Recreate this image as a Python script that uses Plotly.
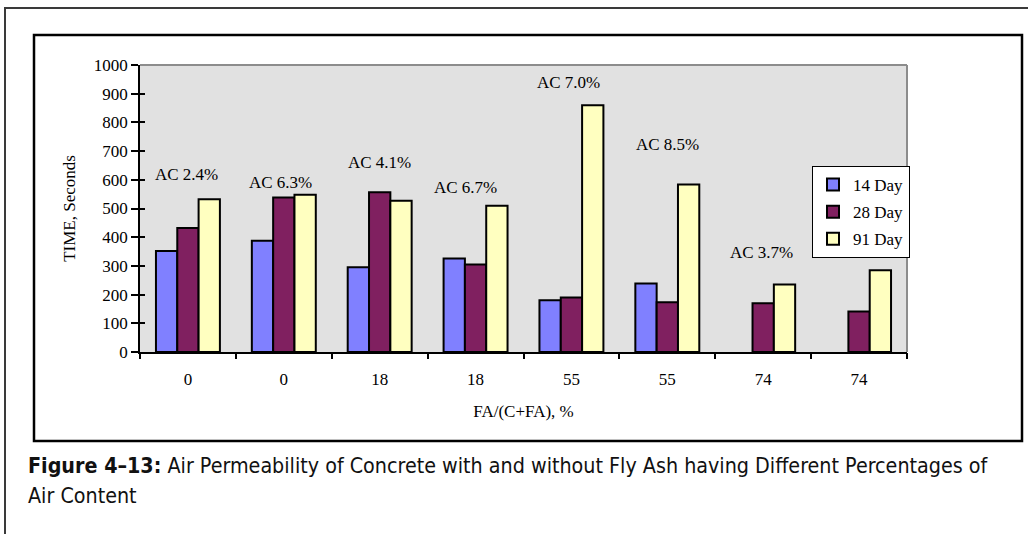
import plotly.graph_objects as go

# Fly ash fraction FA/(C+FA), % for each mix
fa_labels = ["0", "0", "18", "18", "55", "55", "74", "74"]

# Air permeability test time (seconds) by curing age
day14 = [352, 388, 295, 326, 180, 239, None, None]
day28 = [432, 538, 557, 305, 190, 173, 170, 141]
day91 = [532, 548, 527, 510, 860, 584, 235, 285]

# Air content note above each mix
ac_labels = ["AC 2.4%", "AC 6.3%", "AC 4.1%", "AC 6.7%", "AC 7.0%", "AC 8.5%", "AC 3.7%", ""]

series_names = ["14 Day", "28 Day", "91 Day"]
series_colors = ["#8080FF", "#802060", "#FFFFC0"]

# placement of the air-content notes (data units)
ac_y = [618, 592, 662, 573, 938, 722, 346, 0]
ac_dx = [-0.02, -0.03, 0.0, -0.11, -0.03, 0.0, -0.02, 0.0]

caption_lines = [
    "<b>Figure 4\u201313:</b> Air Permeability of Concrete with and without Fly Ash having Different Percentages of",
    "Air Content",
]

W, H = 1028, 534
L, R, T, B = 140, 907, 65, 352  # plot area in pixels


def px(x):
    return (x - L) / (R - L)


def py(y):
    return (B - y) / (B - T)


serif = "Liberation Serif, Times New Roman, serif"
narrow = "DejaVu Sans Condensed, Liberation Sans Narrow, Arial Narrow, sans-serif"
positions = list(range(len(fa_labels)))

fig = go.Figure()
for name, vals, col in zip(series_names, [day14, day28, day91], series_colors):
    fig.add_trace(go.Bar(
        x=positions, y=vals, name=name,
        marker=dict(color=col, line=dict(color="black", width=2)),
        legendgroup=name,
    ))

# an empty trace so the overlay axes (crossing tick marks) are created
fig.add_trace(go.Scatter(x=[], y=[], xaxis="x2", yaxis="y2", showlegend=False, hoverinfo="skip"))

for i, txt in enumerate(ac_labels):
    if txt:
        fig.add_annotation(x=positions[i] + ac_dx[i], y=ac_y[i], text=txt, showarrow=False,
                           xref="x", yref="y", font=dict(family=serif, size=17, color="black"))

shapes = []
# outer page frame
shapes.append(dict(type="rect", xref="paper", yref="paper",
                   x0=px(5), x1=px(1040), y0=py(8), y1=py(560),
                   line=dict(color="#3a3a3a", width=2), layer="below"))
# chart frame
shapes.append(dict(type="rect", xref="paper", yref="paper",
                   x0=px(34), x1=px(1022), y0=py(35), y1=py(441),
                   line=dict(color="black", width=2.5), layer="below"))
# plot area top and right edges
shapes.append(dict(type="line", xref="paper", yref="paper", x0=0, x1=1, y0=1, y1=1,
                   line=dict(color="#8c8c8c", width=2)))
shapes.append(dict(type="line", xref="paper", yref="paper", x0=1, x1=1, y0=0, y1=1,
                   line=dict(color="#8c8c8c", width=2)))

# figure caption, two lines
for line_text, line_y in zip(caption_lines, [465, 496]):
    fig.add_annotation(
        xref="paper", yref="paper", x=px(26), y=py(line_y), xanchor="left", yanchor="middle",
        align="left", showarrow=False, text=line_text,
        font=dict(family=narrow, size=21.3, color="#111111"),
    )

xrange = [-0.5, len(fa_labels) - 0.5]
boundaries = [i - 0.5 for i in range(len(fa_labels) + 1)]

fig.update_layout(
    width=W, height=H,
    margin=dict(l=L, r=W - R, t=T, b=H - B, pad=0),
    paper_bgcolor="white",
    plot_bgcolor="#E1E1E1",
    bargap=0.333, bargroupgap=0,
    font=dict(family=serif, size=17, color="black"),
    shapes=shapes,
    showlegend=True,
    legend=dict(
        x=px(812), y=py(166), xanchor="left", yanchor="top",
        bgcolor="white", bordercolor="black", borderwidth=1,
        font=dict(family=serif, size=17, color="black"),
        traceorder="grouped", tracegroupgap=2, itemwidth=30,
    ),
    xaxis=dict(
        range=xrange, tickmode="array", tickvals=positions, ticktext=fa_labels,
        ticks="outside", ticklen=11, tickcolor="rgba(0,0,0,0)",
        showline=True, linecolor="black", linewidth=1.5,
        showgrid=False, zeroline=False,
        title=dict(text="FA/(C+FA), %", standoff=17, font=dict(family=serif, size=17)),
    ),
    yaxis=dict(
        range=[0, 1000], dtick=100, ticks="outside", ticklen=7, tickwidth=1.5, tickcolor="black",
        showline=True, linecolor="black", linewidth=1.5,
        showgrid=False, zeroline=False,
        title=dict(text="TIME, Seconds", standoff=14, font=dict(family=serif, size=17)),
    ),
    xaxis2=dict(
        overlaying="x", anchor="y", range=xrange, tickmode="array", tickvals=boundaries,
        ticks="outside", ticklen=6, tickwidth=1.5, tickcolor="black",
        showticklabels=False, showline=False, showgrid=False, zeroline=False,
    ),
    yaxis2=dict(
        overlaying="y", anchor="x", range=[0, 1000], dtick=100,
        ticks="inside", ticklen=5, tickwidth=1.5, tickcolor="black",
        showticklabels=False, showline=False, showgrid=False, zeroline=False,
    ),
)

fig.write_html("out.html")
